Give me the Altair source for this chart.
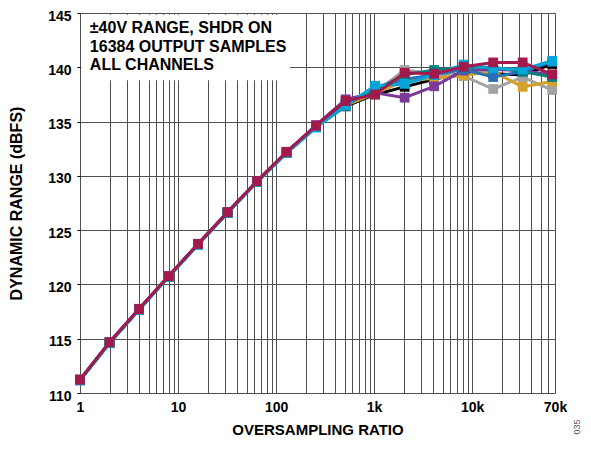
import altair as alt
import pandas as pd

# ---------------- data ----------------
osr = [1, 2, 4, 8, 16, 32, 64, 128, 256, 512, 1024, 2048, 4096, 8192, 16384, 32768, 65536]

series_names = ["CH_BLACK", "CH_GRAY", "CH_GOLD", "CH_PURPLE", "CH_BLUE", "CH_TEAL", "CH_CYAN", "CH_MAROON"]
series_colors = ["#000000", "#a3a3a3", "#d4a12a", "#7b3a97", "#2a70b8", "#00817e", "#00a5dc", "#a3194c"]

ch_black  = [111.20, 114.62, 117.70, 120.72, 123.70, 126.62, 129.47, 132.15, 134.55, 136.40, 137.50, 138.20, 138.90, 139.50, 139.40, 139.30, 140.30]
ch_gray   = [111.22, 114.65, 117.72, 120.74, 123.72, 126.64, 129.50, 132.18, 134.60, 136.60, 137.70, 139.75, 139.40, 139.20, 138.00, 139.10, 137.90]
ch_gold   = [111.22, 114.65, 117.72, 120.74, 123.72, 126.64, 129.50, 132.18, 134.60, 136.50, 137.60, 138.75, 139.00, 139.25, 139.60, 138.20, 138.70]
ch_purple = [111.25, 114.70, 117.76, 120.78, 123.75, 126.68, 129.54, 132.22, 134.68, 137.05, 137.65, 137.20, 138.25, 139.70, 139.80, 139.70, 139.30]
ch_blue   = [111.18, 114.60, 117.68, 120.70, 123.68, 126.60, 129.46, 132.12, 134.52, 136.60, 138.15, 138.90, 139.30, 139.80, 139.10, 139.60, 140.50]
ch_teal   = [111.18, 114.60, 117.68, 120.70, 123.68, 126.60, 129.46, 132.12, 134.50, 136.55, 137.90, 139.30, 139.75, 140.00, 140.00, 139.60, 139.10]
ch_cyan   = [111.15, 114.58, 117.66, 120.68, 123.66, 126.58, 129.44, 132.10, 134.45, 136.45, 138.30, 138.47, 139.30, 140.25, 139.90, 139.80, 140.60]
ch_maroon = [111.22, 114.66, 117.73, 120.75, 123.73, 126.64, 129.51, 132.20, 134.62, 136.90, 137.50, 139.50, 139.40, 140.05, 140.45, 140.45, 139.35]

series_values = [ch_black, ch_gray, ch_gold, ch_purple, ch_blue, ch_teal, ch_cyan, ch_maroon]

x_grid_values = [m * 10 ** d for d in range(5) for m in range(1, 10) if m * 10 ** d <= 70000] + [70000]
x_label_map = {1: "1", 10: "10", 100: "100", 1000: "1k", 10000: "10k", 70000: "70k"}
y_ticks = [110, 115, 120, 125, 130, 135, 140, 145]

box_lines = ["±40V RANGE, SHDR ON", "16384 OUTPUT SAMPLES", "ALL CHANNELS"]
box_line_y = [143.6, 141.9, 140.25]
box_text_x = 1.26
box_extent = {"x": 1.03, "x2": 139, "y": 138.8, "y2": 144.85}

FONT = "Liberation Sans"

# ---------------- scales / axes ----------------
label_expr = " : ".join(
    [f"datum.value == {k} ? '{v}'" for k, v in x_label_map.items()]
) + " : ''"

x_scale = alt.Scale(type="log", domain=[1, 70000], nice=False)
y_scale = alt.Scale(domain=[110, 145], nice=False, zero=False)

x_axis = alt.Axis(
    values=x_grid_values, labelExpr=label_expr, title="OVERSAMPLING RATIO",
    grid=True, gridColor="#505050", gridOpacity=1, gridWidth=1,
    domain=False, ticks=False, labelPadding=7, labelFontSize=14, labelFontWeight="bold",
    labelColor="#000000", labelFont=FONT, labelFlush=False, labelOverlap=False,
    titleFont=FONT, titleFontSize=15, titleFontWeight="bold", titleColor="#000000",
    titlePadding=8,
)
y_axis = alt.Axis(
    values=y_ticks, title="DYNAMIC RANGE (dBFS)",
    grid=True, gridColor="#505050", gridOpacity=1, gridWidth=1,
    domain=False, ticks=True, tickSize=3, tickColor="#000000", labelPadding=6,
    labelOffset=3,
    labelFontSize=14, labelFontWeight="bold", labelColor="#000000", labelFont=FONT,
    titleFont=FONT, titleFontSize=16, titleFontWeight="bold", titleColor="#000000",
    titlePadding=23,
)

# ---------------- layers ----------------
grid_holder = alt.Chart(pd.DataFrame({"osr": [1], "db": [110]})).mark_point(opacity=0).encode(
    x=alt.X("osr:Q", scale=x_scale, axis=x_axis),
    y=alt.Y("db:Q", scale=y_scale, axis=y_axis),
)

box = alt.Chart(pd.DataFrame([box_extent])).mark_rect(fill="white").encode(
    x=alt.X("x:Q", scale=x_scale), x2="x2:Q",
    y=alt.Y("y:Q", scale=y_scale), y2="y2:Q",
)

box_text = alt.Chart(pd.DataFrame({"t": box_lines, "x": [box_text_x] * 3, "y": box_line_y})).mark_text(
    align="left", baseline="middle", font=FONT, fontSize=16, fontWeight="bold", color="#000000"
).encode(
    x=alt.X("x:Q", scale=x_scale), y=alt.Y("y:Q", scale=y_scale), text="t:N"
)

layers = [grid_holder, box, box_text]
for name, color, vals in zip(series_names, series_colors, series_values):
    df = pd.DataFrame({"osr": osr, "db": vals})
    enc = dict(x=alt.X("osr:Q", scale=x_scale), y=alt.Y("db:Q", scale=y_scale))
    layers.append(alt.Chart(df).mark_line(color=color, strokeWidth=3).encode(**enc))
    layers.append(alt.Chart(df).mark_point(shape="square", filled=True, size=95, opacity=1, color=color).encode(**enc))

code_text = alt.Chart(pd.DataFrame({"t": ["035"]})).mark_text(
    font=FONT, fontSize=9, color="#555555", angle=270, baseline="middle", align="center"
).encode(text="t:N", x=alt.value(497), y=alt.value(414))
layers.append(code_text)

chart = alt.layer(*layers).properties(
    width=475, height=380,
    autosize=alt.AutoSizeParams(type="none"),
    padding={"left": 72, "top": 5, "right": 28, "bottom": 48},
).configure_view(stroke="#000000", strokeWidth=2).configure(background="white")

chart.save("out.html", embed_options={"renderer": "svg", "actions": False})
